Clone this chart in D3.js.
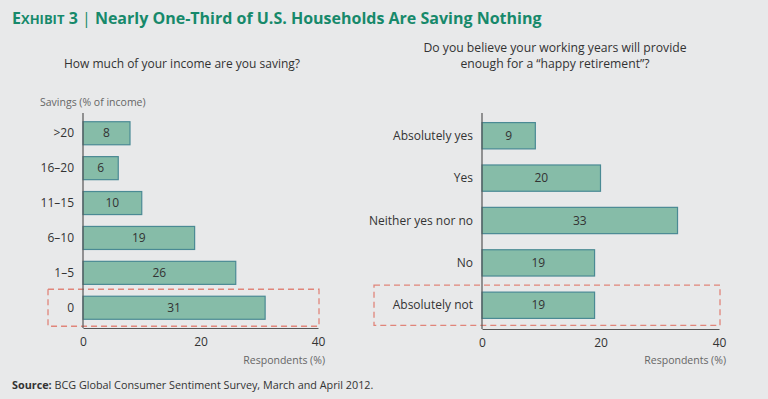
<!DOCTYPE html>
<html>
<head>
<meta charset="utf-8">
<script src="https://cdn.jsdelivr.net/npm/d3@7"></script>
<style>
  body { margin: 0; background: #e8e9ea; }
  svg { display: block; font-family: "Open Sans", "Noto Sans", sans-serif; }
</style>
</head>
<body>
<div id="chart"></div>
<script>
// ---- data ----
var savingsCats = [">20", "16\u201320", "11\u201315", "6\u201310", "1\u20135", "0"];
var savingsVals = [8, 6, 10, 19, 26, 31];

var retireCats = ["Absolutely yes", "Yes", "Neither yes nor no", "No", "Absolutely not"];
var retireVals = [9, 20, 33, 19, 19];

var xTicks = [0, 20, 40];

var width = 768, height = 399;
var barFill = "#86bca8", barStroke = "#4a8a94", axisCol = "#555";

var svg = d3.select("#chart").append("svg")
    .attr("width", width).attr("height", height);

svg.append("rect").attr("width", width).attr("height", height).attr("fill", "#e8e9ea");

// title
var title = svg.append("text").attr("x", 12).attr("y", 24)
    .attr("fill", "#17896b").style("font-weight", "bold").style("font-size", "16px");
title.append("tspan").text("E");
title.append("tspan").style("font-size", "13px").text("XHIBIT");
title.append("tspan").text(" 3 ");
title.append("tspan").style("font-weight", "normal").text("|");
title.append("tspan").text(" Nearly One-Third of U.S. Households Are Saving Nothing");

// draw one horizontal bar panel
function drawPanel(opts) {
  var x = d3.scaleLinear().domain([0, 40]).range([opts.x0, opts.x1]);
  var y = d3.scaleBand().domain(opts.cats).range([opts.top, opts.bottom])
      .paddingInner(opts.pad).paddingOuter(opts.padOuter);

  var g = svg.append("g");

  // highlight box on last category
  var last = opts.cats[opts.cats.length - 1];
  g.append("rect")
      .attr("x", opts.boxX).attr("width", x(40) - opts.boxX + 1)
      .attr("y", y(last) - opts.boxPad).attr("height", y.bandwidth() + opts.boxPad * 2)
      .attr("fill", "none").attr("stroke", "#e0857a").attr("stroke-width", 1.3)
      .attr("stroke-dasharray", "6,4");

  g.selectAll("rect.bar").data(opts.vals).enter().append("rect")
      .attr("class", "bar")
      .attr("x", x(0))
      .attr("y", function(d, i) { return y(opts.cats[i]); })
      .attr("width", function(d) { return x(d) - x(0); })
      .attr("height", y.bandwidth())
      .attr("fill", barFill).attr("stroke", barStroke).attr("stroke-width", 1.2);

  g.selectAll("text.val").data(opts.vals).enter().append("text")
      .attr("x", function(d) { return (x(0) + x(d)) / 2; })
      .attr("y", function(d, i) { return y(opts.cats[i]) + y.bandwidth() / 2; })
      .attr("dy", "0.35em").attr("text-anchor", "middle")
      .style("font-size", "12px").attr("fill", "#333")
      .text(function(d) { return d; });

  g.selectAll("text.cat").data(opts.cats).enter().append("text")
      .attr("x", x(0) - 9)
      .attr("y", function(d) { return y(d) + y.bandwidth() / 2; })
      .attr("dy", "0.35em").attr("text-anchor", "end")
      .style("font-size", "12px").attr("fill", "#333")
      .text(function(d) { return d; });

  // axes lines
  g.append("line").attr("x1", x(0)).attr("x2", x(0))
      .attr("y1", opts.axisTop).attr("y2", opts.bottom)
      .attr("stroke", axisCol).attr("stroke-width", 1.2);
  var xAxis = g.append("g").attr("transform", "translate(0," + opts.bottom + ")")
      .call(d3.axisBottom(x).tickValues(xTicks).tickSize(0).tickPadding(9));
  xAxis.select(".domain").attr("stroke", axisCol).attr("stroke-width", 1.2);
  xAxis.selectAll("text").style("font-size", "12px").attr("fill", "#333")
      .style("font-family", "'Open Sans', 'Noto Sans', sans-serif");

  g.append("text").attr("x", x(40) + 7).attr("y", 364)
      .attr("text-anchor", "end").style("font-size", "10.5px").attr("fill", "#666")
      .text("Respondents (%)");
}

drawPanel({
  cats: savingsCats, vals: savingsVals,
  x0: 83, x1: 318, top: 113, bottom: 328, pad: 0.34, padOuter: 0.25,
  axisTop: 113, boxX: 48, boxPad: 7
});

drawPanel({
  cats: retireCats, vals: retireVals,
  x0: 482, x1: 719, top: 112, bottom: 329, pad: 0.38, padOuter: 0.25,
  axisTop: 113, boxX: 374, boxPad: 7
});

// panel questions
svg.append("text").attr("x", 182).attr("y", 68).attr("text-anchor", "middle")
    .style("font-size", "12px").attr("fill", "#333")
    .text("How much of your income are you saving?");
svg.append("text").attr("x", 555).attr("y", 51.5).attr("text-anchor", "middle")
    .style("font-size", "12.2px").attr("fill", "#333")
    .text("Do you believe your working years will provide");
svg.append("text").attr("x", 555).attr("y", 68).attr("text-anchor", "middle")
    .style("font-size", "12.2px").attr("fill", "#333")
    .text("enough for a \u201chappy retirement\u201d?");

svg.append("text").attr("x", 40).attr("y", 106)
    .style("font-size", "10.5px").attr("fill", "#666")
    .text("Savings (% of income)");

// source
var src = svg.append("text").attr("x", 12).attr("y", 389)
    .style("font-size", "10.8px").attr("fill", "#333");
src.append("tspan").style("font-weight", "bold").text("Source:");
src.append("tspan").text(" BCG Global Consumer Sentiment Survey, March and April 2012.");
</script>
</body>
</html>
